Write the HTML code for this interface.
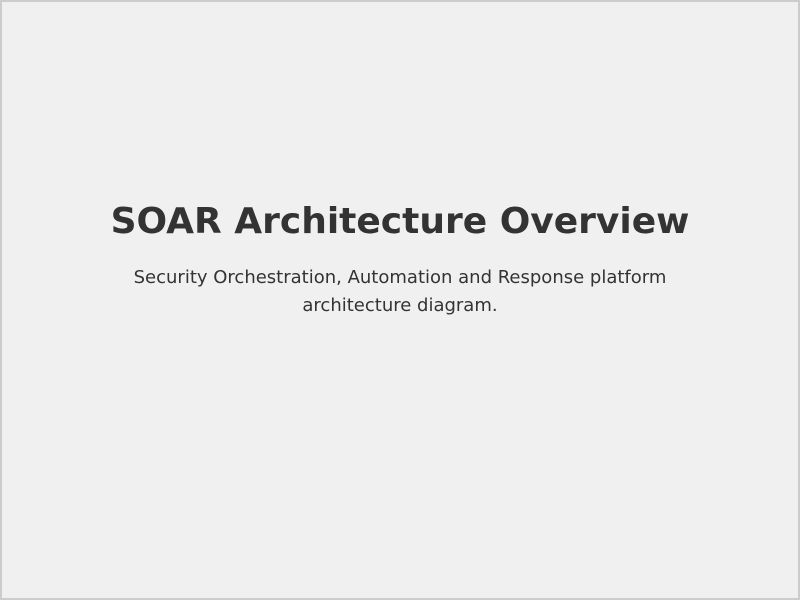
<!DOCTYPE html>
<html><head><style>
html,body{margin:0;padding:0;}
body{width:800px;height:600px;background:#f0f0f0;font-family:"DejaVu Sans",sans-serif;color:#333;position:relative;overflow:hidden;}
.frame{position:absolute;left:0;top:0;width:796px;height:596px;border:2px solid #ccc;}
h1{position:absolute;left:0;width:800px;top:198px;margin:0;text-align:center;font-size:36px;line-height:48px;font-weight:bold;color:#333;}
p{position:absolute;left:110px;width:580px;top:264px;margin:0;text-align:center;font-size:18px;line-height:28px;color:#333;}
</style></head><body>
<div class="frame"></div>
<h1>SOAR Architecture Overview</h1>
<p>Security Orchestration, Automation and Response platform architecture diagram.</p>
</body></html>
